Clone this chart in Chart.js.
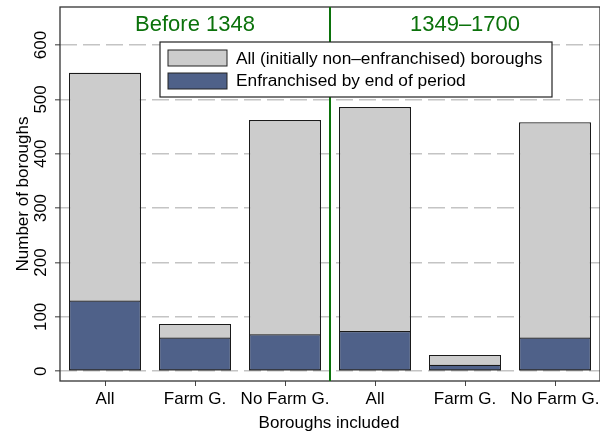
<!DOCTYPE html>
<html>
<head>
<meta charset="utf-8">
<script src="https://cdn.jsdelivr.net/npm/chart.js@4"></script>
<style>
	html, body { margin: 0; padding: 0; background: #fff; }
	#wrap { width: 600px; height: 433px; }
</style>
</head>
<body>
<div id="wrap"><canvas id="bar-chart" width="600" height="433"></canvas></div>
<script>
const categories = ['All', 'Farm G.', 'No Farm G.', 'All', 'Farm G.', 'No Farm G.']
const allBoroughs = [549, 87, 462, 486, 30, 458]
const enfranchised = [130, 62, 68, 74, 12, 62]
const periods = ['Before 1348', '1349\u20131700']
const yTicks = [0, 100, 200, 300, 400, 500, 600]
const seriesNames = ['All (initially non\u2013enfranchised) boroughs', 'Enfranchised by end of period']

const FONT = '"Liberation Sans", Arial, sans-serif'
const GREY = '#cccccc'
const BLUE = '#4f6189'
const GREEN = '#0b720b'

// stata-like extras: frame, period headers, divider, legend, rotated y labels
const extras = {
	id: 'extras',
	afterDraw(chart) {
		const ctx = chart.ctx
		const a = chart.chartArea
		const x = chart.scales.x
		const y = chart.scales.y
		ctx.save()

		// frame
		ctx.strokeStyle = '#333'
		ctx.lineWidth = 1.3
		ctx.strokeRect(a.left, a.top, a.right - a.left, a.bottom - a.top)

		// divider between periods
		const mid = (x.getPixelForValue(2) + x.getPixelForValue(3)) / 2
		ctx.strokeStyle = GREEN
		ctx.lineWidth = 2
		ctx.beginPath()
		ctx.moveTo(mid, a.top)
		ctx.lineTo(mid, a.bottom)
		ctx.stroke()

		// period headers
		ctx.fillStyle = GREEN
		ctx.font = '22px ' + FONT
		ctx.textAlign = 'center'
		ctx.textBaseline = 'alphabetic'
		ctx.fillText(periods[0], x.getPixelForValue(1), 31)
		ctx.fillText(periods[1], x.getPixelForValue(4), 31)

		// y tick labels, rotated
		ctx.fillStyle = '#000'
		ctx.font = '17px ' + FONT
		yTicks.forEach((v) => {
			ctx.save()
			ctx.translate(46, y.getPixelForValue(v))
			ctx.rotate(-Math.PI / 2)
			ctx.fillText(String(v), 0, 0)
			ctx.restore()
		})

		// y title
		ctx.save()
		ctx.translate(28, (a.top + a.bottom) / 2)
		ctx.rotate(-Math.PI / 2)
		ctx.fillText('Number of boroughs', 0, 0)
		ctx.restore()

		// x title
		ctx.fillText('Boroughs included', (a.left + a.right) / 2 - 1, 428)

		// legend
		ctx.fillStyle = '#fff'
		ctx.fillRect(160, 42, 392, 55)
		ctx.strokeStyle = '#222'
		ctx.lineWidth = 1.2
		ctx.strokeRect(160, 42, 392, 55)
		const swatches = [GREY, BLUE]
		const rows = [50, 73]
		const bases = [64, 86]
		ctx.lineWidth = 1
		ctx.textAlign = 'left'
		ctx.font = '17.3px ' + FONT
		for (let i = 0; i < 2; i++) {
			ctx.fillStyle = swatches[i]
			ctx.fillRect(168, rows[i], 59, 16)
			ctx.strokeStyle = '#222'
			ctx.strokeRect(168, rows[i], 59, 16)
			ctx.fillStyle = '#000'
			ctx.fillText(seriesNames[i], 236, bases[i])
		}
		ctx.restore()
	}
}

new Chart(document.getElementById('bar-chart'), {
	type: 'bar',
	data: {
		labels: categories,
		datasets: [
			{
				label: seriesNames[0],
				data: allBoroughs,
				backgroundColor: GREY,
				borderColor: '#1a1a1a',
				borderWidth: 1.2,
				borderSkipped: false,
				order: 2
			},
			{
				label: seriesNames[1],
				data: enfranchised,
				backgroundColor: BLUE,
				borderColor: '#1a1a1a',
				borderWidth: 1.2,
				borderSkipped: false,
				order: 1
			}
		]
	},
	options: {
		responsive: false,
		animation: false,
		devicePixelRatio: 1,
		layout: { padding: { top: 7, left: 0, right: 0, bottom: 0 } },
		datasets: { bar: { categoryPercentage: 1, barPercentage: 0.8 } },
		plugins: {
			legend: { display: false },
			tooltip: { enabled: false }
		},
		scales: {
			x: {
				stacked: true,
				offset: true,
				border: { display: false },
				grid: {
					offset: false,
					drawOnChartArea: false,
					tickLength: 5,
					tickColor: '#444'
				},
				ticks: {
					color: '#000',
					padding: 3,
					maxRotation: 0,
					autoSkip: false,
					font: { family: FONT, size: 17 }
				},
				afterFit(scale) {
					scale.height = 52
					scale.paddingLeft = 0
					scale.paddingRight = 0
				}
			},
			y: {
				stacked: false,
				min: -18,
				max: 670,
				border: { display: false, dash: [17, 6] },
				grid: {
					color: '#c4c4c4',
					lineWidth: 1.6,
					tickColor: '#555',
					tickWidth: 1.2,
					tickLength: 5,
					tickBorderDash: []
				},
				ticks: {
					stepSize: 100,
					includeBounds: false,
					display: true,
					color: 'rgba(0,0,0,0)',
					font: { size: 1 },
					padding: 0
				},
				afterFit(scale) {
					scale.width = 60
				}
			}
		}
	},
	plugins: [extras]
})
</script>
</body>
</html>
